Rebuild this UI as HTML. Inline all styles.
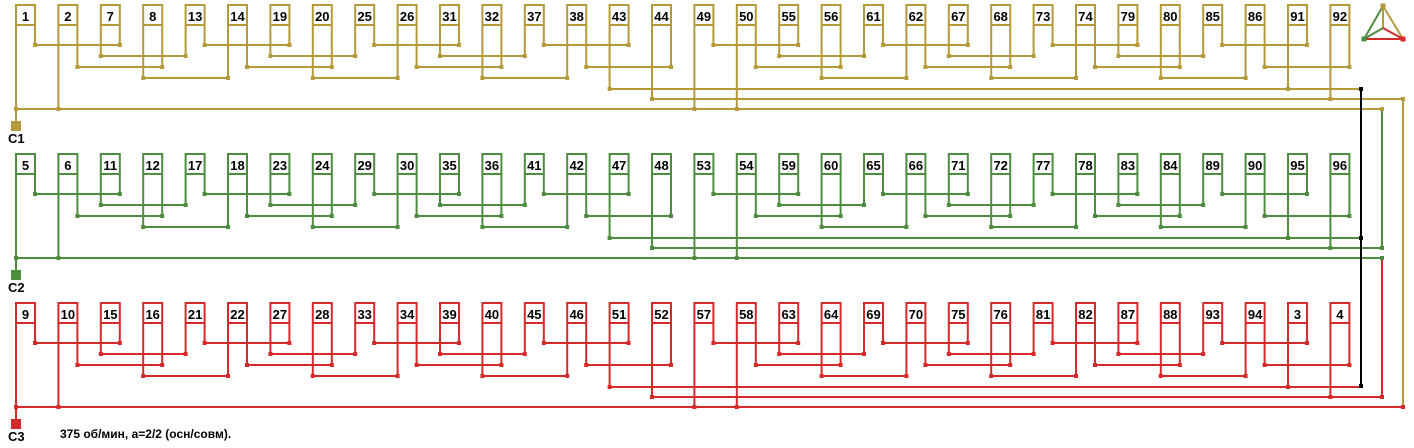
<!DOCTYPE html>
<html><head><meta charset="utf-8"><style>
html,body{margin:0;padding:0;background:#fff;}
svg{display:block;}
text{font-family:"Liberation Sans",sans-serif;}
.l{font-size:13px;font-weight:bold;text-anchor:middle;fill:#000;}
</style></head><body>
<svg id="s" width="1414" height="448" viewBox="0 0 1414 448" xmlns="http://www.w3.org/2000/svg">
<g id="lines"></g>
<g id="boxes"></g>
<g id="t0">
<text class="l" x="25.5" y="21">1</text><text class="l" x="67.9" y="21">2</text><text class="l" x="110.3" y="21">7</text><text class="l" x="152.7" y="21">8</text><text class="l" x="195.1" y="21">13</text><text class="l" x="237.5" y="21">14</text><text class="l" x="279.9" y="21">19</text><text class="l" x="322.3" y="21">20</text><text class="l" x="364.7" y="21">25</text><text class="l" x="407.1" y="21">26</text><text class="l" x="449.5" y="21">31</text><text class="l" x="491.9" y="21">32</text><text class="l" x="534.3" y="21">37</text><text class="l" x="576.7" y="21">38</text><text class="l" x="619.1" y="21">43</text><text class="l" x="661.5" y="21">44</text><text class="l" x="703.9" y="21">49</text><text class="l" x="746.3" y="21">50</text><text class="l" x="788.7" y="21">55</text><text class="l" x="831.1" y="21">56</text><text class="l" x="873.5" y="21">61</text><text class="l" x="915.9" y="21">62</text><text class="l" x="958.3" y="21">67</text><text class="l" x="1000.7" y="21">68</text><text class="l" x="1043.1" y="21">73</text><text class="l" x="1085.5" y="21">74</text><text class="l" x="1127.9" y="21">79</text><text class="l" x="1170.3" y="21">80</text><text class="l" x="1212.7" y="21">85</text><text class="l" x="1255.1" y="21">86</text><text class="l" x="1297.5" y="21">91</text><text class="l" x="1339.9" y="21">92</text>
</g>
<g transform="translate(0,149)">
<text class="l" x="25.5" y="21">5</text><text class="l" x="67.9" y="21">6</text><text class="l" x="110.3" y="21">11</text><text class="l" x="152.7" y="21">12</text><text class="l" x="195.1" y="21">17</text><text class="l" x="237.5" y="21">18</text><text class="l" x="279.9" y="21">23</text><text class="l" x="322.3" y="21">24</text><text class="l" x="364.7" y="21">29</text><text class="l" x="407.1" y="21">30</text><text class="l" x="449.5" y="21">35</text><text class="l" x="491.9" y="21">36</text><text class="l" x="534.3" y="21">41</text><text class="l" x="576.7" y="21">42</text><text class="l" x="619.1" y="21">47</text><text class="l" x="661.5" y="21">48</text><text class="l" x="703.9" y="21">53</text><text class="l" x="746.3" y="21">54</text><text class="l" x="788.7" y="21">59</text><text class="l" x="831.1" y="21">60</text><text class="l" x="873.5" y="21">65</text><text class="l" x="915.9" y="21">66</text><text class="l" x="958.3" y="21">71</text><text class="l" x="1000.7" y="21">72</text><text class="l" x="1043.1" y="21">77</text><text class="l" x="1085.5" y="21">78</text><text class="l" x="1127.9" y="21">83</text><text class="l" x="1170.3" y="21">84</text><text class="l" x="1212.7" y="21">89</text><text class="l" x="1255.1" y="21">90</text><text class="l" x="1297.5" y="21">95</text><text class="l" x="1339.9" y="21">96</text>
</g>
<g transform="translate(0,298)">
<text class="l" x="25.5" y="21">9</text><text class="l" x="67.9" y="21">10</text><text class="l" x="110.3" y="21">15</text><text class="l" x="152.7" y="21">16</text><text class="l" x="195.1" y="21">21</text><text class="l" x="237.5" y="21">22</text><text class="l" x="279.9" y="21">27</text><text class="l" x="322.3" y="21">28</text><text class="l" x="364.7" y="21">33</text><text class="l" x="407.1" y="21">34</text><text class="l" x="449.5" y="21">39</text><text class="l" x="491.9" y="21">40</text><text class="l" x="534.3" y="21">45</text><text class="l" x="576.7" y="21">46</text><text class="l" x="619.1" y="21">51</text><text class="l" x="661.5" y="21">52</text><text class="l" x="703.9" y="21">57</text><text class="l" x="746.3" y="21">58</text><text class="l" x="788.7" y="21">63</text><text class="l" x="831.1" y="21">64</text><text class="l" x="873.5" y="21">69</text><text class="l" x="915.9" y="21">70</text><text class="l" x="958.3" y="21">75</text><text class="l" x="1000.7" y="21">76</text><text class="l" x="1043.1" y="21">81</text><text class="l" x="1085.5" y="21">82</text><text class="l" x="1127.9" y="21">87</text><text class="l" x="1170.3" y="21">88</text><text class="l" x="1212.7" y="21">93</text><text class="l" x="1255.1" y="21">94</text><text class="l" x="1297.5" y="21">3</text><text class="l" x="1339.9" y="21">4</text>
</g>
<text x="8" y="143" style="font-size:13px;font-weight:bold">C1</text>
<text x="8" y="292" style="font-size:13px;font-weight:bold">C2</text>
<text x="8" y="441" style="font-size:13px;font-weight:bold">C3</text>
<text x="60" y="438" style="font-size:12px;font-weight:bold">375 об/мин, а=2/2 (осн/совм).</text>
</svg>
<script>
(function(){
var NS="http://www.w3.org/2000/svg";
var L=document.getElementById("lines"),B=document.getElementById("boxes");
function ln(x1,y1,x2,y2,c,g){var e=document.createElementNS(NS,"line");e.setAttribute("x1",x1);e.setAttribute("y1",y1);e.setAttribute("x2",x2);e.setAttribute("y2",y2);e.setAttribute("stroke",c);e.setAttribute("stroke-width","2");(g||L).appendChild(e);}
function dot(x,y,c,s){s=s||4;var e=document.createElementNS(NS,"rect");e.setAttribute("x",x-s/2);e.setAttribute("y",y-s/2);e.setAttribute("width",s);e.setAttribute("height",s);e.setAttribute("fill",c);B.appendChild(e);}
function X(i){return 16+i*42.4;}
var W=19;
var cols=["#b59a3c","#4e8c40","#d42a2a"];
var offs=[0,149,298];
var E6=[1403,1382,1382],EB=[1382,1382,1403];
for(var r=0;r<3;r++){
 var o=offs[r],c=cols[r];
 var L1=o+45,L2=o+56,L3=o+67,L4=o+78,L5=o+89,L6=o+99,BUS=o+109;
 for(var i=0;i<32;i++){
  var x0=X(i),j=i%16,p=Math.floor(j/2),A=(j%2==0);
  var ry=A?L1:L3;
  var ly=p==0?BUS:(p==7?(A?L5:L6):(A?L2:L4));
  ln(x0+W,o+25,x0+W,ry,c);dot(x0+W,ry,c);
  ln(x0,o+25,x0,ly,c);dot(x0,ly,c);
  if(p%2==0){ln(x0+W,ry,X(i+2)+W,ry,c);}
  else if(p<7){ln(x0,ly,X(i+2),ly,c);}
  var rb=document.createElementNS(NS,"rect");rb.setAttribute("x",x0);rb.setAttribute("y",o+5);rb.setAttribute("width",W);rb.setAttribute("height",20);rb.setAttribute("fill","#fff");rb.setAttribute("stroke",c);rb.setAttribute("stroke-width","2");B.appendChild(rb);
 }
 ln(16,BUS,EB[r],BUS,c);dot(EB[r],BUS,c);
 ln(X(14),L5,1361,L5,c);
 ln(X(15),L6,E6[r],L6,c);dot(E6[r],L6,c);
 ln(16,BUS,16,o+123,c);
 var sq=document.createElementNS(NS,"rect");sq.setAttribute("x",11);sq.setAttribute("y",o+121);sq.setAttribute("width",10);sq.setAttribute("height",10);sq.setAttribute("fill",c);B.appendChild(sq);
}
ln(1403,99,1403,407,cols[0]);
ln(1382,109,1382,248,cols[1]);
ln(1382,258,1382,396,cols[2]);
ln(1361,89,1361,386,"#000");
dot(1361,89,"#000");dot(1361,238,"#000");dot(1361,386,"#000");
// icon
ln(1383,6,1364,39,cols[1]);ln(1383,6,1403,39,cols[0]);ln(1364,39,1403,39,cols[2]);
ln(1383,6,1383,28,cols[0]);ln(1383,28,1364,39,cols[1]);ln(1383,28,1403,39,cols[2]);
dot(1383,6,cols[0],5);dot(1364,39,cols[1],5);dot(1403,39,cols[2],5);
})();
</script>
</body></html>
